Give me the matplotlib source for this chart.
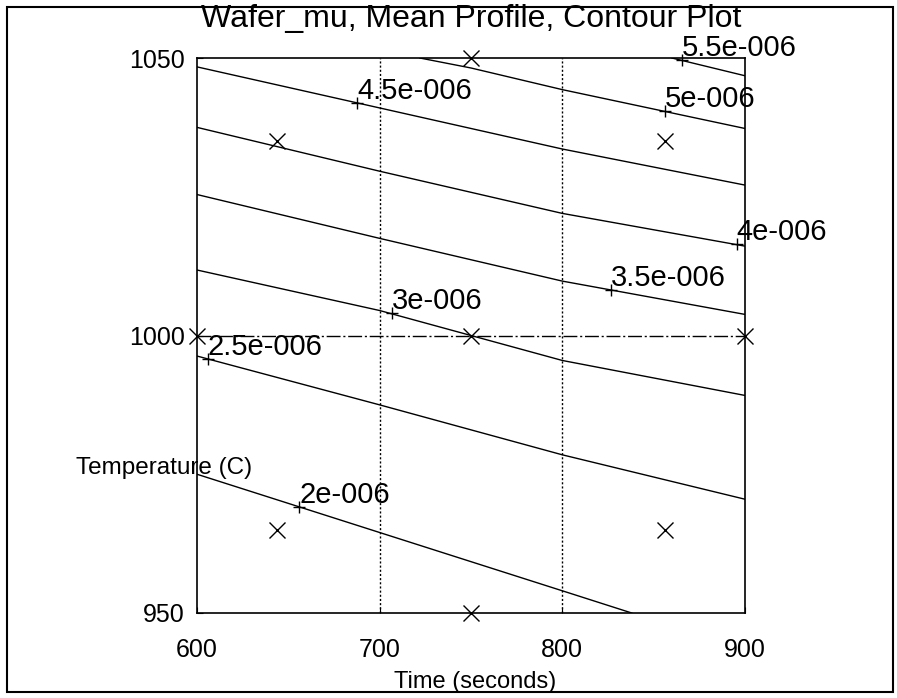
import numpy as np
import matplotlib
matplotlib.use("Agg")
import matplotlib.pyplot as plt
from matplotlib.patches import Rectangle

matplotlib.rcParams["font.family"] = ["Liberation Sans", "DejaVu Sans"]

# contour lines: (time, temperature) per level
levels = ["2e-006", "2.5e-006", "3e-006", "3.5e-006", "4e-006", "4.5e-006", "5e-006", "5.5e-006"]
line_time = [
    [600, 700, 800, 838],
    [600, 700, 800, 900],
    [600, 700, 800, 900],
    [600, 700, 800, 900],
    [600, 700, 800, 900],
    [600, 700, 800, 900],
    [722, 750, 800, 900],
    [860, 900],
]
line_temp = [
    [975.0, 964.5, 954.0, 950.0],
    [996.3, 987.5, 978.5, 970.5],
    [1011.8, 1004.5, 995.5, 989.2],
    [1025.4, 1017.5, 1009.8, 1003.8],
    [1037.5, 1029.6, 1022.0, 1016.1],
    [1048.4, 1041.0, 1033.6, 1027.1],
    [1050.0, 1048.2, 1044.3, 1037.3],
    [1050.0, 1046.8],
]

# where the contour labels sit
label_time = [656, 606, 706.7, 826.6, 895.5, 687.6, 856, 865.5]
label_temp = [969.1, 995.8, 1004.0, 1008.2, 1016.4, 1041.9, 1040.4, 1049.6]

# design points (x markers)
pt_time = [600, 644, 644, 750, 750, 750, 856, 856, 900]
pt_temp = [1000, 965, 1035, 950, 1000, 1050, 965, 1035, 1000]

xticks = [600, 700, 800, 900]
yticks = [950, 1000, 1050]

fig = plt.figure(figsize=(8.97, 6.98), dpi=100)
ax = fig.add_axes([197 / 897, 1 - 613 / 698, 548 / 897, 555 / 698])

# grid-like reference lines
for xv in [700, 800]:
    ax.axvline(xv, color="black", lw=1.0, ls=(0, (1.5, 1.5)), zorder=1)
ax.axhline(1000, color="black", lw=1.0, ls=(0, (10, 2, 1.5, 2)), zorder=1)

for t, v in zip(line_time, line_temp):
    ax.plot(t, v, color="black", lw=1.0, zorder=2)

ax.plot(pt_time, pt_temp, ls="none", marker="x", ms=12, mew=1.0, color="black",
        zorder=3, clip_on=False)

ax.plot(label_time, label_temp, ls="none", marker="+", ms=9, mew=1.0, color="black",
        zorder=3, clip_on=False)
for t, v, s in zip(label_time, label_temp, levels):
    ax.annotate(s, (t, v), xytext=(0, 3), textcoords="offset points",
                ha="left", va="baseline", fontsize=21, clip_on=False)

ax.set_xlim(600, 900)
ax.set_ylim(950, 1050)
ax.set_xticks(xticks)
ax.set_yticks(yticks)
ax.tick_params(direction="in", length=4, width=0.8, labelsize=18)
ax.tick_params(axis="x", pad=18)
ax.tick_params(axis="y", pad=9)
for sp in ax.spines.values():
    sp.set_linewidth(1.2)

ax.set_title("Wafer_mu, Mean Profile, Contour Plot", fontsize=23, y=1.056, pad=0)
ax.set_xlabel("Time (seconds)", fontsize=17)
ax.xaxis.set_label_coords(0.507, -0.124)
ax.xaxis.label.set_va("center")
ax.set_ylabel("Temperature (C)", fontsize=17.5, rotation=0)
ax.yaxis.set_label_coords(-0.06, 0.261)
ax.yaxis.label.set_va("center")
ax.yaxis.label.set_ha("center")

fig.patches.append(Rectangle((7 / 897, 6 / 698), 886 / 897, 685 / 698,
                             transform=fig.transFigure, fill=False, lw=1.5, color="black"))

fig.savefig("out.png", dpi=100)
